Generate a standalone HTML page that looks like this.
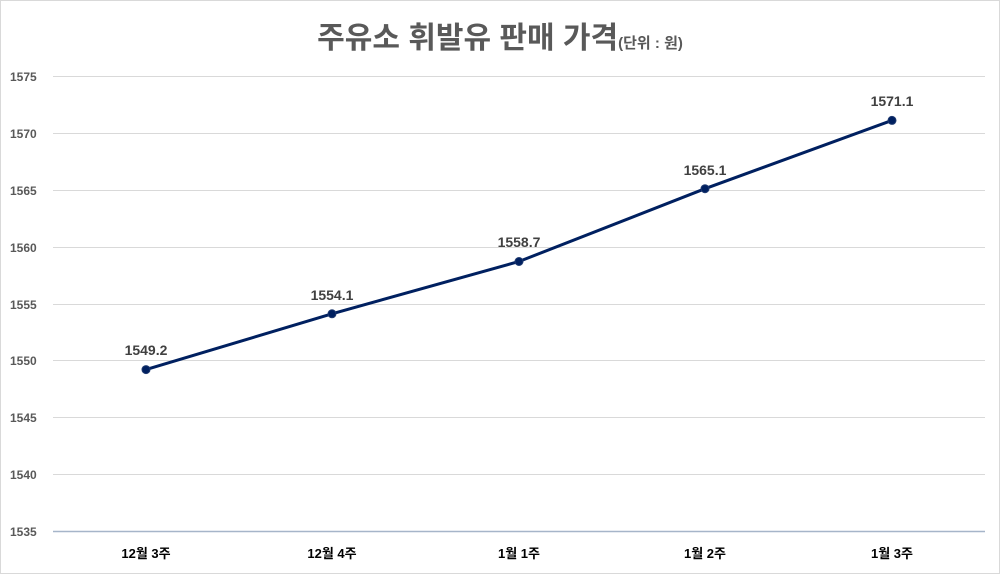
<!DOCTYPE html>
<html><head><meta charset="utf-8"><style>
html,body{margin:0;padding:0;background:#fff;}
body{width:1000px;height:574px;overflow:hidden;}
</style></head><body>
<svg width="1000" height="574" xmlns="http://www.w3.org/2000/svg" font-family="Liberation Sans, Noto Sans CJK KR, sans-serif">
<rect x="0.5" y="0.5" width="999" height="573" fill="#fff" stroke="#d9d9d9" stroke-width="1"/>
<text x="500" y="48" text-anchor="middle" font-weight="bold" fill="#595959"><tspan font-size="30">주유소 휘발유 판매 가격</tspan><tspan font-size="15">(단위 : 원)</tspan></text>
<g stroke="#d9d9d9" stroke-width="1">
<line x1="53" x2="985" y1="76.5" y2="76.5"/>
<line x1="53" x2="985" y1="133.5" y2="133.5"/>
<line x1="53" x2="985" y1="190.5" y2="190.5"/>
<line x1="53" x2="985" y1="247.5" y2="247.5"/>
<line x1="53" x2="985" y1="304.5" y2="304.5"/>
<line x1="53" x2="985" y1="360.5" y2="360.5"/>
<line x1="53" x2="985" y1="417.5" y2="417.5"/>
<line x1="53" x2="985" y1="474.5" y2="474.5"/>
</g>
<line x1="53" x2="985" y1="531.5" y2="531.5" stroke="#a6b5c9" stroke-width="1.5"/>
<g font-size="12" font-weight="bold" fill="#595959" text-anchor="start">
<text x="10" y="81">1575</text><text x="10" y="138">1570</text><text x="10" y="195">1565</text>
<text x="10" y="252">1560</text><text x="10" y="309">1555</text><text x="10" y="365">1550</text>
<text x="10" y="422">1545</text><text x="10" y="479">1540</text><text x="10" y="536">1535</text>
</g>
<g font-size="13" font-weight="bold" fill="#000" text-anchor="middle">
<text x="146" y="558">12월 3주</text><text x="332" y="558">12월 4주</text><text x="519" y="558">1월 1주</text>
<text x="705" y="558">1월 2주</text><text x="892" y="558">1월 3주</text>
</g>
<polyline points="146,369.6 332,313.8 519,261.5 705,188.7 892,120.4" fill="none" stroke="#002060" stroke-width="3"/>
<g fill="#002060" stroke="#1f3a70" stroke-width="1">
<circle cx="146" cy="369.6" r="4"/><circle cx="332" cy="313.8" r="4"/><circle cx="519" cy="261.5" r="4"/>
<circle cx="705" cy="188.7" r="4"/><circle cx="892" cy="120.4" r="4"/>
</g>
<g font-size="14" font-weight="bold" fill="#404040" text-anchor="middle">
<text x="146" y="355">1549.2</text><text x="332" y="300">1554.1</text><text x="519" y="247">1558.7</text>
<text x="705" y="175">1565.1</text><text x="892" y="106">1571.1</text>
</g>
</svg>
</body></html>
